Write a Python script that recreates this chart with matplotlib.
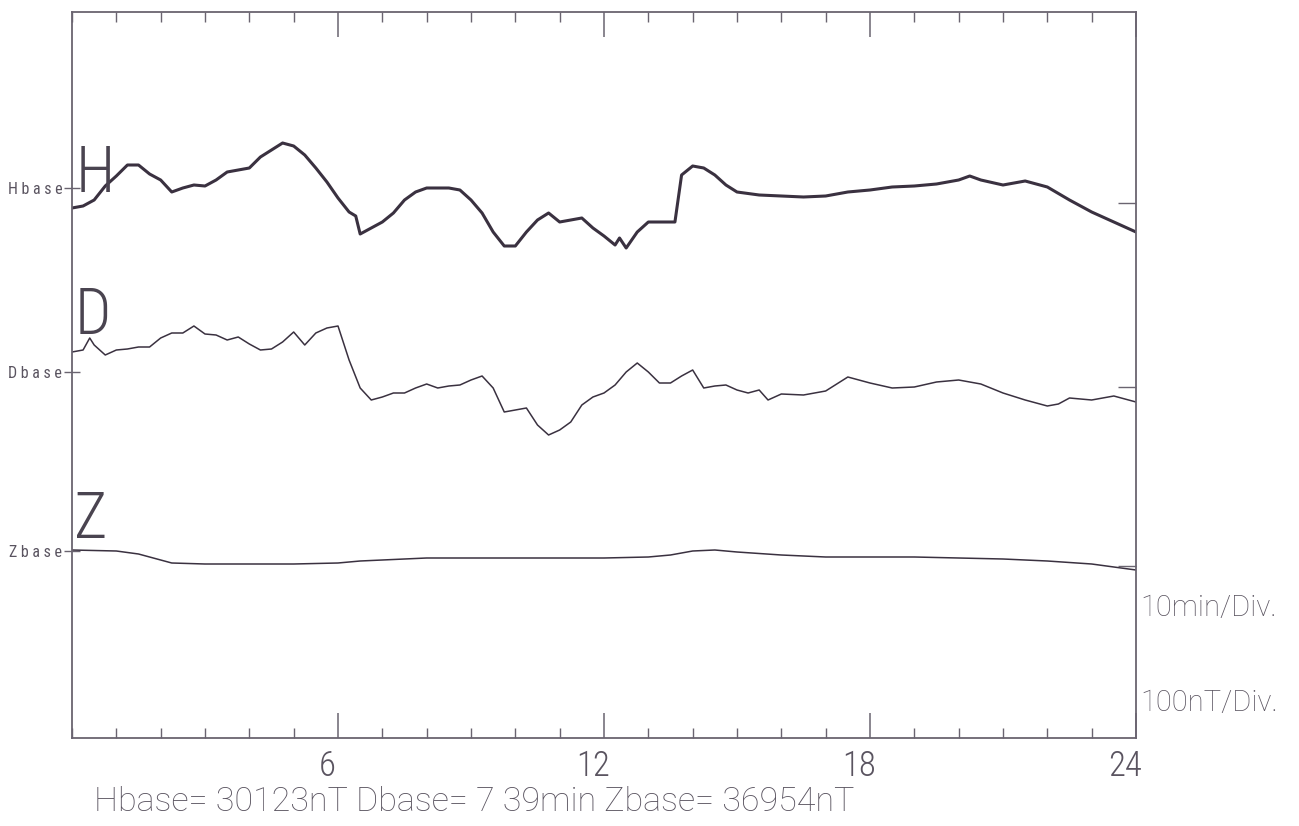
import numpy as np
import matplotlib.pyplot as plt
from matplotlib import font_manager as fm
from matplotlib.ticker import MultipleLocator
from matplotlib.transforms import ScaledTranslation


def pick_font(names):
    have = {f.name for f in fm.fontManager.ttflist}
    for n in names:
        if n in have:
            return n
    return 'DejaVu Sans'


narrow_font = pick_font(['Roboto Condensed', 'Roboto', 'Open Sans', 'DejaVu Sans'])
wide_font = pick_font(['Roboto', 'Open Sans', 'Lato', 'DejaVu Sans'])
plt.rcParams['font.family'] = [narrow_font, 'DejaVu Sans']

# baselines (plot units ~ nT), offsets between the three channels
HBASE, DBASE, ZBASE = 550, 366, 187
SCAN_TILT = 15   # the scanned sheet sits a bit crooked, right end lower

# H component, deviation from Hbase
h_time = [0, 0.25, 0.5, 0.75, 1.0, 1.25, 1.5, 1.75, 2.0, 2.25, 2.5, 2.75, 3.0, 3.25,
          3.5, 3.75, 4.0, 4.25, 4.5, 4.75, 5.0, 5.25, 5.5, 5.75, 6.0, 6.25, 6.4, 6.5, 6.75,
          7.0, 7.25, 7.5, 7.75, 8.0, 8.25, 8.5, 8.75, 9.0, 9.25, 9.5, 9.75, 10.0, 10.25,
          10.5, 10.75, 11.0, 11.25, 11.5, 11.75, 12.0, 12.25, 12.35, 12.5, 12.75, 13.0, 13.25,
          13.5, 13.6, 13.75, 14.0, 14.25, 14.5, 14.75, 15.0, 15.5, 16.0, 16.5, 17.0,
          17.5, 18.0, 18.5, 19.0, 19.5, 20.0, 20.25, 20.5, 21.0, 21.5, 22.0, 22.5, 23.0,
          23.5, 24.0]
h_dev = [-20, -18, -12, 2, 12, 23, 23, 14, 8, -4, 0, 3, 2, 8,
         16, 18, 20, 31, 38, 45, 42, 33, 20, 6, -10, -24, -28, -46, -40,
         -34, -25, -12, -4, 0, 0, 0, -2, -12, -25, -44, -58, -58, -44,
         -32, -25, -34, -32, -30, -40, -48, -57, -50, -60, -44, -34, -34,
         -34, -34, 13, 22, 20, 13, 3, -4, -7, -8, -9, -8,
         -4, -2, 1, 2, 4, 8, 12, 8, 3, 7, 1, -12, -24,
         -34, -44]

# D component, deviation from Dbase
d_time = [0, 0.25, 0.4, 0.5, 0.75, 1.0, 1.25, 1.5, 1.75, 2.0, 2.25, 2.5, 2.75, 3.0,
          3.25, 3.5, 3.75, 4.0, 4.25, 4.5, 4.75, 5.0, 5.25, 5.5, 5.75, 6.0, 6.25, 6.5,
          6.75, 7.0, 7.25, 7.5, 7.75, 8.0, 8.25, 8.5, 8.75, 9.0, 9.25, 9.5, 9.75, 10.0,
          10.25, 10.5, 10.75, 11.0, 11.25, 11.5, 11.75, 12.0, 12.25, 12.5, 12.75, 13.0,
          13.25, 13.5, 13.75, 14.0, 14.25, 14.5, 14.75, 15.0, 15.25, 15.5, 15.7, 16.0,
          16.5, 17.0, 17.5, 18.0, 18.5, 19.0, 19.5, 20.0, 20.5, 21.0, 21.5, 22.0, 22.25,
          22.5, 23.0, 23.5, 24.0]
d_dev = [20, 22, 34, 27, 17, 22, 23, 25, 25, 34, 39, 39, 46, 38,
         37, 32, 35, 28, 22, 23, 30, 40, 27, 39, 44, 46, 12, -16,
         -28, -25, -21, -21, -16, -12, -16, -14, -13, -8, -4, -16, -40, -38,
         -36, -53, -63, -58, -50, -33, -25, -21, -13, 0, 9, 0,
         -11, -11, -4, 2, -16, -14, -13, -18, -21, -18, -28, -22,
         -23, -19, -5, -11, -16, -15, -10, -8, -12, -21, -28, -34, -32,
         -26, -28, -24, -30]

# Z component, deviation from Zbase
z_time = [0, 1, 1.5, 2, 2.25, 3, 4, 5, 6, 6.5, 7, 8, 9, 10, 11, 12, 13, 13.5, 14,
          14.5, 15, 16, 17, 18, 19, 20, 21, 22, 23, 24]
z_dev = [1, 0, -3, -9, -12, -13, -13, -13, -12, -10, -9, -7, -7, -7, -7, -7, -6, -4, 0,
         1, -1, -4, -6, -6, -6, -7, -8, -10, -13, -19]

hour_labels = ['6', '12', '18', '24']
base_labels = ['H b a s e', 'D b a s e', 'Z b a s e']
ink = '#3a3140'
grey = '#6a6470'
txt = '#5a5460'

fig = plt.figure(figsize=(12.99, 8.26), dpi=100)
ax = fig.add_axes([72 / 1299, 88 / 826, 1064 / 1299, 726 / 826])

ax.plot(h_time, HBASE + np.array(h_dev), color=ink, lw=2.2)
ax.plot(d_time, DBASE + np.array(d_dev), color=ink, lw=1.1)
ax.plot(z_time, ZBASE + np.array(z_dev), color=ink, lw=1.1)

ax.set_xlim(0, 24)
ax.set_ylim(0, 726)

for s in ax.spines.values():
    s.set_color(grey)
    s.set_linewidth(1.3)

ax.set_xticks([6, 12, 18, 24])
ax.set_xticklabels(hour_labels)
ax.xaxis.set_minor_locator(MultipleLocator(1))
ax.tick_params(axis='x', which='major', direction='in', length=18, width=1.1,
               color=grey, top=True, labelsize=25, labelcolor=txt, pad=8)
ax.tick_params(axis='x', which='minor', direction='in', length=7, width=1.0,
               color=grey, top=True)
for lbl in ax.get_xticklabels():
    lbl.set_fontweight('light')
    lbl.set_transform(lbl.get_transform() + ScaledTranslation(-8 / 72, 0, fig.dpi_scale_trans))

ax.set_yticks([HBASE, DBASE, ZBASE])
ax.set_yticklabels(base_labels, family=narrow_font)
ax.tick_params(axis='y', direction='inout', length=12, width=1.0, color=grey,
               labelsize=11.5, labelcolor=txt, pad=1)

ax2 = ax.twinx()
ax2.set_ylim(ax.get_ylim())
ax2.set_yticks([HBASE - SCAN_TILT, DBASE - SCAN_TILT, ZBASE - SCAN_TILT])
ax2.tick_params(axis='y', direction='in', length=13, width=1.0, color=grey,
                labelright=False)
for s in ax2.spines.values():
    s.set_visible(False)

# channel letters
for letter, t, y in [('H', 0.52, HBASE + 14), ('D', 0.47, DBASE + 56), ('Z', 0.43, ZBASE + 31)]:
    ax.text(t, y, letter, ha='center', va='center', fontsize=46, color='#4a4450',
            fontweight='light')

fig.text(1140 / 1299, 1 - 608 / 826, '10min/Div.', ha='left', va='center',
         fontsize=21, color=txt, family=wide_font, fontweight='light')
fig.text(1140 / 1299, 1 - 703 / 826, '100nT/Div.', ha='left', va='center',
         fontsize=21, color=txt, family=wide_font, fontweight='light')
fig.text(94 / 1299, 1 - 802 / 826, 'Hbase= 30123nT Dbase= 7 39min Zbase= 36954nT',
         ha='left', va='center', fontsize=24.5, color=txt, family=wide_font,
         fontweight='light')

fig.savefig('out.png', dpi=100)
